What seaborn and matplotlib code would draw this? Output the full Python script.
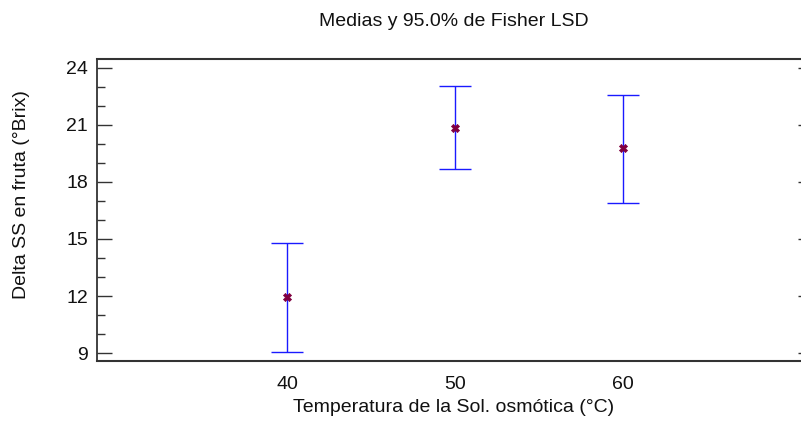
import matplotlib
matplotlib.use("Agg")
import matplotlib.pyplot as plt
import seaborn as sns
import pandas as pd
from matplotlib.ticker import MultipleLocator

# Data
temperatures = [40, 50, 60]
means = [11.95, 20.84, 19.79]
lower = [9.05, 18.68, 16.89]
upper = [14.79, 23.05, 22.58]
y_ticks = [9, 12, 15, 18, 21, 24]
x_ticks = [40, 50, 60]

df = pd.DataFrame({"temp": temperatures, "mean": means, "lo": lower, "hi": upper})

sns.set_theme(style="white")
plt.rcParams["font.family"] = ["Liberation Sans", "DejaVu Sans"]

W, H = 801, 421
fig = plt.figure(figsize=(W / 100, H / 100), dpi=100)
ax = fig.add_axes([97 / W, (H - 361) / H, (802 - 97) / W, (361 - 59) / H])

err_lo = df["mean"] - df["lo"]
err_hi = df["hi"] - df["mean"]
ax.errorbar(df["temp"], df["mean"], yerr=[err_lo, err_hi], fmt="none",
            ecolor="#1a1aff", elinewidth=1.0, capsize=11.8, capthick=1.0, zorder=2)
sns.scatterplot(data=df, x="temp", y="mean", ax=ax, marker="X", s=34,
                color="#800040", edgecolor="#800040", linewidth=0.5, zorder=3)

ax.set_xlim(28.69, 70.65)
ax.set_ylim(8.58, 24.47)
ax.set_xticks(x_ticks)
ax.set_xticklabels([str(v) for v in x_ticks])
ax.set_yticks(y_ticks)
ax.set_yticklabels([str(v) for v in y_ticks])
ax.yaxis.set_minor_locator(MultipleLocator(1))

spc = "#333333"
for s in ["left", "top", "bottom"]:
    ax.spines[s].set_visible(True)
    ax.spines[s].set_color(spc)
ax.spines["left"].set_linewidth(1.3)
ax.spines["top"].set_linewidth(1.5)
ax.spines["bottom"].set_linewidth(1.5)
ax.spines["right"].set_visible(False)

ax.tick_params(axis="y", which="major", direction="in", length=10.8, width=1.0,
               color=spc, left=True, right=True, labelsize=14, pad=6.5, labelcolor="#111111")
ax.tick_params(axis="y", which="minor", direction="in", length=5.8, width=1.0,
               color=spc, left=True, right=False)
ax.tick_params(axis="x", which="both", bottom=False, top=False, labelsize=14,
               pad=4.5, labelcolor="#111111")
for t in ax.yaxis.get_major_ticks():
    t.tick2line.set_markersize(3)

ax.set_xlabel("")
ax.set_ylabel("")
fig.text(454 / W, 1 - 21 / H, "Medias y 95.0% de Fisher LSD", ha="center", va="center",
         fontsize=14, color="#111111")
fig.text(454 / W, 1 - 408 / H, "Temperatura de la Sol. osmótica (°C)", ha="center",
         va="center", fontsize=14, color="#111111")
fig.text(22 / W, 1 - 195 / H, "Delta SS en fruta (°Brix)", ha="center", va="center",
         rotation=90, fontsize=14, color="#111111")

fig.savefig("out.png", dpi=100)
